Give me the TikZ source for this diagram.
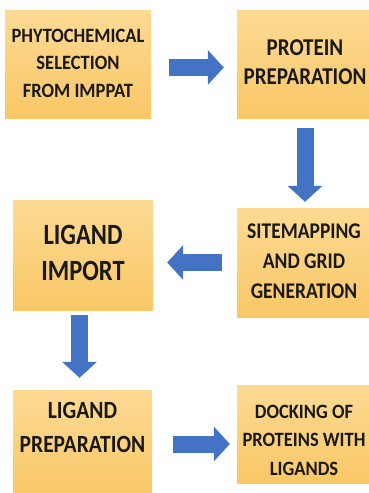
\documentclass[tikz,border=0pt]{standalone}
\usepackage{fontspec}
\usepackage{graphicx}
\setmainfont{Carlito}
\usetikzlibrary{arrows.meta,calc}
\definecolor{boxtop}{RGB}{253,218,148}
\definecolor{boxbot}{RGB}{249,199,102}
\definecolor{arrowblue}{RGB}{68,114,196}
\definecolor{txt}{RGB}{25,25,25}
% #1 font size, #2 baselineskip, #3 vertical stretch, #4 lines
\newcommand\boxtext[4]{\fontsize{#1}{#2}\selectfont\scalebox{1}[#3]{\begin{tabular}{@{}c@{}}#4\end{tabular}}}
\tikzset{
  stepbox/.style={rectangle, top color=boxtop, bottom color=boxbot, draw=none,
    align=center, text=txt, font=\bfseries, inner sep=0pt},
  blockarrow/.style={draw=arrowblue, line width=17pt, line cap=butt,
    -{Triangle[width=34pt,length=16pt,fill=arrowblue]}},
}
\begin{document}
\begin{tikzpicture}[x=1pt,y=-1pt]
\useasboundingbox (0,0) rectangle (369,493);
\clip (0,0) rectangle (369,493);
\node[stepbox, minimum width=146pt, minimum height=108pt] (b1) at (78,64)
  {\boxtext{18.5}{25}{1.1}{PHYTOCHEMICAL\\SELECTION\\FROM IMPPAT}};
\node[stepbox, minimum width=136pt, minimum height=108pt] (b2) at (305,64)
  {\boxtext{21}{26}{1.15}{PROTEIN\\PREPARATION}};
\node[stepbox, minimum width=140pt, minimum height=110pt] (b4) at (83,255)
  {\boxtext{24.5}{30}{1.2}{LIGAND\\IMPORT}};
\node[stepbox, minimum width=134pt, minimum height=109pt] (b3) at (304,262.5)
  {\boxtext{19.5}{26}{1.15}{SITEMAPPING\\AND GRID\\GENERATION}};
\node[stepbox, minimum width=139pt, minimum height=108pt, text height=40pt, text depth=58pt] (b5) at (82.5,444)
  {\boxtext{21.5}{29.5}{1.15}{LIGAND\\PREPARATION}};
\node[stepbox, minimum width=134pt, minimum height=98pt, text height=55pt, text depth=31pt] (b6) at (304,434)
  {\boxtext{18.5}{26}{1.1}{DOCKING OF\\PROTEINS WITH\\LIGANDS}};
% arrows
\draw[blockarrow] ($(b1.east)+(18,3.5)$) -- ($(b2.west|-b1.east)+(-13,3.5)$);
\draw[blockarrow] ($(b2.south)+(0,10)$) -- ($(b2.south|-b3.north)+(0,-6)$);
\draw[blockarrow] ($(b3.west)+(-15,0)$) -- ($(b4.east|-b3.west)+(14,0)$);
\draw[blockarrow] ($(b4.south)+(-3.5,5)$) -- ($(b4.south|-b5.north)+(-3.5,-12)$);
\draw[blockarrow] ($(b5.east|-b6.west)+(21,10)$) -- ($(b6.west)+(-7,10)$);
\end{tikzpicture}
\end{document}
